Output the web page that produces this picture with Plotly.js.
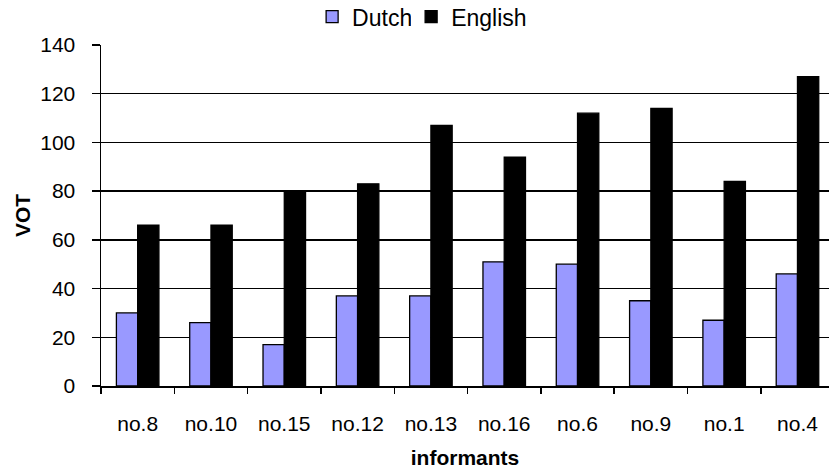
<!DOCTYPE html>
<html>
<head>
<meta charset="utf-8">
<script src="https://cdn.plot.ly/plotly-3.0.1.min.js"></script>
<style>html,body{margin:0;padding:0;background:#fff;}#chart{width:829px;height:470px;}</style>
</head>
<body>
<div id="chart"></div>
<script>
const informants = ["no.8","no.10","no.15","no.12","no.13","no.16","no.6","no.9","no.1","no.4"];
const dutch = [30, 26, 17, 37, 37, 51, 50, 35, 27, 46];
const english = [66, 66, 80, 83, 107, 94, 112, 114, 84, 127];
const yTicks = [0, 20, 40, 60, 80, 100, 120, 140];

const font = {family: "Liberation Sans, Arial, sans-serif", size: 21, color: "#000"};
const legendFont = {family: "Liberation Sans, Arial, sans-serif", size: 23, color: "#000"};

const data = [
  {type: "bar", name: "Dutch", x: informants, y: dutch, legend: "legend",
   marker: {color: "#9999FF", line: {color: "#000", width: 1.3}}},
  {type: "bar", name: "English", x: informants, y: english, legend: "legend2",
   marker: {color: "#000000", line: {color: "#000", width: 1.3}}}
];

const layout = {
  width: 829, height: 470,
  margin: {l: 101, r: 0, t: 45, b: 84, autoexpand: false},
  paper_bgcolor: "#fff", plot_bgcolor: "#fff",
  font: font,
  barmode: "group", bargap: 0.42, bargroupgap: 0,
  showlegend: true,
  legend: {orientation: "h", x: 0.29, xanchor: "left", y: 1.02, yanchor: "bottom",
           font: legendFont},
  legend2: {orientation: "h", x: 0.426, xanchor: "left", y: 1.02, yanchor: "bottom",
           font: legendFont},
  xaxis: {
    type: "category", range: [-0.5, 9.43],
    showline: true, linecolor: "#000", linewidth: 1.5,
    ticks: "outside", tickson: "boundaries", ticklen: 6, tickcolor: "#000", tickwidth: 1.5,
    ticklabelstandoff: 18,
    showgrid: false, zeroline: false,
    tickfont: font,
    title: {text: "<b>informants</b>", font: font, standoff: 16}
  },
  yaxis: {
    range: [0, 140], tickvals: yTicks,
    showline: true, linecolor: "#000", linewidth: 1.5,
    ticks: "outside", ticklen: 8, tickcolor: "#000", tickwidth: 1.5,
    ticklabelstandoff: 12,
    showgrid: true, gridcolor: "#000", gridwidth: 1.4,
    zeroline: false,
    tickfont: font,
    title: {text: "<b>VOT</b>", font: font, standoff: 4}
  }
};

Plotly.newPlot("chart", data, layout, {displayModeBar: false, staticPlot: true});
</script>
</body>
</html>
